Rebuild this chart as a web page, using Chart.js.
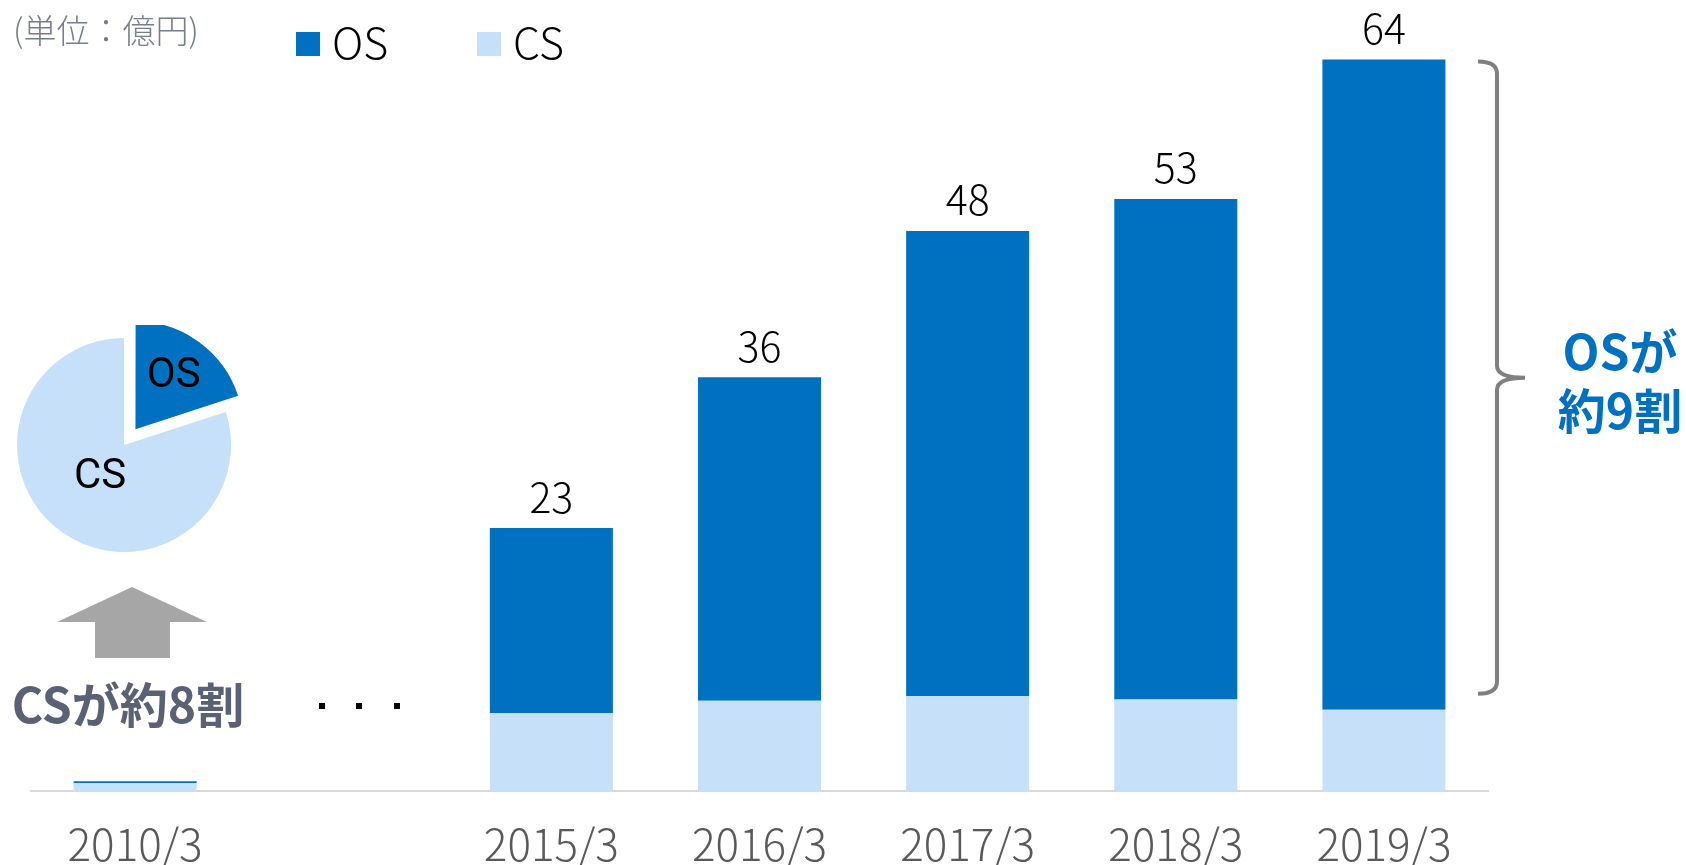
<!DOCTYPE html>
<html lang="ja">
<head>
<meta charset="utf-8">
<title>OS / CS</title>
<script src="https://cdn.jsdelivr.net/npm/chart.js@4.4.1/dist/chart.umd.min.js"></script>
<style>
  html, body { margin: 0; padding: 0; background: #fff; overflow: hidden; }
  #wrap { position: relative; width: 1686px; height: 865px; }
  #barChart { position: absolute; left: 0; top: 0; }
  #pieChart { position: absolute; left: 4px; top: 325px; }
</style>
</head>
<body>
<div id="wrap">
  <canvas id="barChart" width="1686" height="865"></canvas>
  <canvas id="pieChart" width="240" height="240"></canvas>
</div>
<script>
// values (億円)
const years = ['2010/3', '', '2015/3', '2016/3', '2017/3', '2018/3', '2019/3']
const csValues = [0.67, null, 6.8, 7.9, 8.3, 8.0, 7.1]
const osValues = [0.18, null, 16.2, 28.3, 40.7, 43.8, 56.9]
const totalLabels = ['', '', '23', '36', '48', '53', '64']
const pieLabels = ['OS', 'CS']
const pieShares = [20, 80]

const OS_BLUE = '#0070C0'
const CS_BLUE = '#C6E0FA'
const JP = "'Noto Sans CJK JP', 'Noto Sans', sans-serif"

const overlay = {
    id: 'overlay',
    afterDatasetsDraw(chart) {
        const ctx = chart.ctx
        const osMeta = chart.getDatasetMeta(1)
        ctx.save()
        ctx.fillStyle = '#000'
        ctx.font = '300 41px ' + JP
        ctx.textAlign = 'center'
        ctx.textBaseline = 'middle'
        osMeta.data.forEach((bar, i) => {
            if (totalLabels[i]) ctx.fillText(totalLabels[i], bar.x, bar.y - 31)
        })
        ctx.restore()
    },
    afterDraw(chart) {
        const ctx = chart.ctx
        ctx.save()

        // unit
        ctx.fillStyle = '#767D8C'
        ctx.font = '300 33px ' + JP
        ctx.textBaseline = 'middle'
        ctx.textAlign = 'left'
        ctx.fillText('(単位：億円)', 13, 30)

        // legend (OS first, like the picture)
        const legendX = [296, 477]
        const sets = chart.data.datasets.slice().reverse()
        ctx.font = '300 43px ' + JP
        sets.forEach((ds, i) => {
            ctx.fillStyle = ds.backgroundColor
            ctx.fillRect(legendX[i], 32, 24, 24)
            ctx.fillStyle = '#000'
            ctx.fillText(ds.label, legendX[i] + 36, 43)
        })

        // arrow
        ctx.fillStyle = '#A6A6A6'
        ctx.beginPath()
        ctx.moveTo(132, 587)
        ctx.lineTo(207, 622)
        ctx.lineTo(170, 622)
        ctx.lineTo(170, 658)
        ctx.lineTo(95, 658)
        ctx.lineTo(95, 622)
        ctx.lineTo(57, 622)
        ctx.closePath()
        ctx.fill()

        ctx.fillStyle = '#5A6174'
        ctx.font = 'bold 48px ' + JP
        ctx.textAlign = 'center'
        ctx.fillText('CSが約8割', 128, 705)

        // ・・・
        ctx.fillStyle = '#000'
        ;[322, 359, 397].forEach(x => ctx.fillRect(x - 3, 703, 6, 6))

        // brace next to the last bar
        const osBars = chart.getDatasetMeta(1).data
        const csBars = chart.getDatasetMeta(0).data
        const last = osBars[osBars.length - 1]
        const top = last.y + 2
        const bot = csBars[csBars.length - 1].y - 16
        const mid = (top + bot) / 2
        const bx = 1497, hx = 1478, tx = 1525, r = 12
        ctx.strokeStyle = '#808080'
        ctx.lineWidth = 4
        ctx.lineJoin = 'round'
        ctx.beginPath()
        ctx.moveTo(hx, top)
        ctx.quadraticCurveTo(bx, top, bx, top + r)
        ctx.lineTo(bx, mid - r)
        ctx.quadraticCurveTo(bx, mid, tx, mid)
        ctx.moveTo(tx, mid)
        ctx.quadraticCurveTo(bx, mid, bx, mid + r)
        ctx.lineTo(bx, bot - r)
        ctx.quadraticCurveTo(bx, bot, hx, bot)
        ctx.stroke()

        ctx.fillStyle = OS_BLUE
        ctx.font = 'bold 48px ' + JP
        ctx.fillText('OSが', 1620, 352)
        ctx.fillText('約9割', 1620, 411)

        ctx.restore()
    }
}

const barChart = new Chart(document.getElementById('barChart'), {
    type: 'bar',
    data: {
        labels: years,
        datasets: [
            { label: 'CS', data: csValues, backgroundColor: CS_BLUE },
            { label: 'OS', data: osValues, backgroundColor: OS_BLUE }
        ]
    },
    options: {
        responsive: false,
        animation: false,
        categoryPercentage: 1,
        barPercentage: 0.591,
        layout: { padding: { left: 31, right: 198, top: 0, bottom: 0 } },
        plugins: {
            legend: { display: false },
            tooltip: { enabled: false }
        },
        scales: {
            x: {
                stacked: true,
                grid: { display: false, drawTicks: false },
                border: { display: true, color: '#D9D9D9', width: 2 },
                ticks: {
                    autoSkip: false,
                    maxRotation: 0,
                    padding: 27,
                    color: '#595959',
                    font: { family: JP, size: 44, weight: 300 }
                },
                afterFit(axis) { axis.height = 74 }
            },
            y: {
                stacked: true,
                display: false,
                min: 0,
                max: 69.2
            }
        }
    },
    plugins: [overlay]
})

// small pie for 2010/3 (Chart.js v4 moves an arc by offset / 4)
const pieOffsets = [78, 0]

const pieText = {
    id: 'pieText',
    afterDatasetsDraw(chart) {
        const ctx = chart.ctx
        const fracs = [0.6, 0.38]
        ctx.save()
        ctx.fillStyle = '#000'
        ctx.font = "42px Roboto, 'Noto Sans', sans-serif"
        ctx.textAlign = 'center'
        ctx.textBaseline = 'middle'
        chart.getDatasetMeta(0).data.forEach((arc, i) => {
            const p = arc.getProps(['x', 'y', 'startAngle', 'endAngle', 'outerRadius', 'circumference'])
            const a = (p.startAngle + p.endAngle) / 2
            const fix = 1 - Math.sin(Math.min(Math.PI, p.circumference || 0))
            const shift = pieOffsets[i] / 4 * (1 + fix)
            const d = shift + p.outerRadius * fracs[i]
            ctx.fillText(pieLabels[i], p.x + Math.cos(a) * d, p.y + Math.sin(a) * d)
        })
        ctx.restore()
    }
}

const pieChart = new Chart(document.getElementById('pieChart'), {
    type: 'pie',
    data: {
        labels: pieLabels,
        datasets: [{
            data: pieShares,
            backgroundColor: [OS_BLUE, CS_BLUE],
            borderWidth: 0,
            offset: pieOffsets
        }]
    },
    options: {
        responsive: false,
        animation: false,
        radius: 107,
        plugins: {
            legend: { display: false },
            tooltip: { enabled: false }
        }
    },
    plugins: [pieText]
})
</script>
</body>
</html>
